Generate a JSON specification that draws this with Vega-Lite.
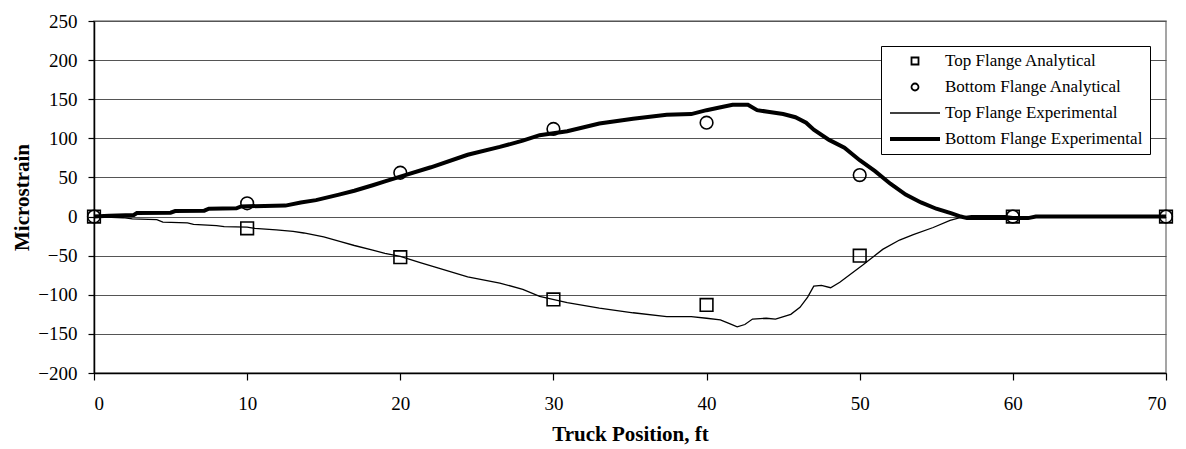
{
  "$schema": "https://vega.github.io/schema/vega-lite/v6.json",
  "width": 1072,
  "height": 352,
  "autosize": {"type": "none"},
  "padding": {"left": 94, "top": 21, "right": 20, "bottom": 76},
  "config": {
    "font": "Liberation Serif",
    "view": {"stroke": "#888888", "strokeWidth": 1.5},
    "axis": {
      "labelFont": "Liberation Serif",
      "titleFont": "Liberation Serif",
      "labelColor": "#000000",
      "titleColor": "#000000",
      "domainColor": "#000000",
      "tickColor": "#000000",
      "domainWidth": 1.5,
      "tickWidth": 1.2,
      "labelFontSize": 19,
      "titleFontSize": 21,
      "titleFontWeight": "bold"
    },
    "legend": {
      "labelFont": "Liberation Serif",
      "labelFontSize": 17,
      "labelColor": "#000000"
    }
  },
  "datasets": {
    "exp": [
      {"series": "Bottom Flange Experimental", "pos": 0, "strain": 0},
      {"series": "Bottom Flange Experimental", "pos": 1, "strain": 1},
      {"series": "Bottom Flange Experimental", "pos": 2.6, "strain": 2},
      {"series": "Bottom Flange Experimental", "pos": 2.8, "strain": 4.5},
      {"series": "Bottom Flange Experimental", "pos": 5, "strain": 5},
      {"series": "Bottom Flange Experimental", "pos": 5.3, "strain": 7},
      {"series": "Bottom Flange Experimental", "pos": 7.2, "strain": 7.5},
      {"series": "Bottom Flange Experimental", "pos": 7.5, "strain": 10},
      {"series": "Bottom Flange Experimental", "pos": 9.3, "strain": 10.5},
      {"series": "Bottom Flange Experimental", "pos": 9.6, "strain": 13},
      {"series": "Bottom Flange Experimental", "pos": 12.5, "strain": 14},
      {"series": "Bottom Flange Experimental", "pos": 13.5, "strain": 18},
      {"series": "Bottom Flange Experimental", "pos": 14.5, "strain": 21},
      {"series": "Bottom Flange Experimental", "pos": 16, "strain": 28},
      {"series": "Bottom Flange Experimental", "pos": 17, "strain": 33},
      {"series": "Bottom Flange Experimental", "pos": 18.2, "strain": 40},
      {"series": "Bottom Flange Experimental", "pos": 19, "strain": 45},
      {"series": "Bottom Flange Experimental", "pos": 20, "strain": 51},
      {"series": "Bottom Flange Experimental", "pos": 22, "strain": 63},
      {"series": "Bottom Flange Experimental", "pos": 24.4, "strain": 79},
      {"series": "Bottom Flange Experimental", "pos": 26.5, "strain": 89},
      {"series": "Bottom Flange Experimental", "pos": 28, "strain": 97},
      {"series": "Bottom Flange Experimental", "pos": 29.1, "strain": 104},
      {"series": "Bottom Flange Experimental", "pos": 30.9, "strain": 109},
      {"series": "Bottom Flange Experimental", "pos": 33, "strain": 119},
      {"series": "Bottom Flange Experimental", "pos": 35.2, "strain": 125},
      {"series": "Bottom Flange Experimental", "pos": 37.4, "strain": 130},
      {"series": "Bottom Flange Experimental", "pos": 39, "strain": 131},
      {"series": "Bottom Flange Experimental", "pos": 40, "strain": 136},
      {"series": "Bottom Flange Experimental", "pos": 41, "strain": 140},
      {"series": "Bottom Flange Experimental", "pos": 41.7, "strain": 143},
      {"series": "Bottom Flange Experimental", "pos": 42.7, "strain": 143},
      {"series": "Bottom Flange Experimental", "pos": 43.3, "strain": 136},
      {"series": "Bottom Flange Experimental", "pos": 44, "strain": 134},
      {"series": "Bottom Flange Experimental", "pos": 45, "strain": 131},
      {"series": "Bottom Flange Experimental", "pos": 45.8, "strain": 127},
      {"series": "Bottom Flange Experimental", "pos": 46.5, "strain": 120},
      {"series": "Bottom Flange Experimental", "pos": 47, "strain": 111},
      {"series": "Bottom Flange Experimental", "pos": 48, "strain": 98},
      {"series": "Bottom Flange Experimental", "pos": 49, "strain": 88},
      {"series": "Bottom Flange Experimental", "pos": 50, "strain": 72},
      {"series": "Bottom Flange Experimental", "pos": 51, "strain": 58},
      {"series": "Bottom Flange Experimental", "pos": 52, "strain": 42},
      {"series": "Bottom Flange Experimental", "pos": 53, "strain": 28},
      {"series": "Bottom Flange Experimental", "pos": 54, "strain": 18},
      {"series": "Bottom Flange Experimental", "pos": 55, "strain": 10},
      {"series": "Bottom Flange Experimental", "pos": 56, "strain": 4},
      {"series": "Bottom Flange Experimental", "pos": 56.6, "strain": 0},
      {"series": "Bottom Flange Experimental", "pos": 57, "strain": -2},
      {"series": "Bottom Flange Experimental", "pos": 61, "strain": -2},
      {"series": "Bottom Flange Experimental", "pos": 61.5, "strain": 0},
      {"series": "Bottom Flange Experimental", "pos": 70, "strain": 0},
      {"series": "Top Flange Experimental", "pos": 0, "strain": 0},
      {"series": "Top Flange Experimental", "pos": 1.9, "strain": -1.5},
      {"series": "Top Flange Experimental", "pos": 2.5, "strain": -3},
      {"series": "Top Flange Experimental", "pos": 4.1, "strain": -4},
      {"series": "Top Flange Experimental", "pos": 4.5, "strain": -7},
      {"series": "Top Flange Experimental", "pos": 6.1, "strain": -8},
      {"series": "Top Flange Experimental", "pos": 6.5, "strain": -10},
      {"series": "Top Flange Experimental", "pos": 8, "strain": -11.5},
      {"series": "Top Flange Experimental", "pos": 8.5, "strain": -13},
      {"series": "Top Flange Experimental", "pos": 10, "strain": -13.5},
      {"series": "Top Flange Experimental", "pos": 10.5, "strain": -15},
      {"series": "Top Flange Experimental", "pos": 11.9, "strain": -17},
      {"series": "Top Flange Experimental", "pos": 13, "strain": -19},
      {"series": "Top Flange Experimental", "pos": 13.7, "strain": -21},
      {"series": "Top Flange Experimental", "pos": 15, "strain": -26},
      {"series": "Top Flange Experimental", "pos": 16.1, "strain": -32},
      {"series": "Top Flange Experimental", "pos": 17, "strain": -37},
      {"series": "Top Flange Experimental", "pos": 18.2, "strain": -43},
      {"series": "Top Flange Experimental", "pos": 19, "strain": -47},
      {"series": "Top Flange Experimental", "pos": 20, "strain": -51},
      {"series": "Top Flange Experimental", "pos": 21.3, "strain": -59},
      {"series": "Top Flange Experimental", "pos": 22.5, "strain": -66},
      {"series": "Top Flange Experimental", "pos": 24.4, "strain": -77},
      {"series": "Top Flange Experimental", "pos": 26.5, "strain": -85},
      {"series": "Top Flange Experimental", "pos": 28, "strain": -93},
      {"series": "Top Flange Experimental", "pos": 29.1, "strain": -102},
      {"series": "Top Flange Experimental", "pos": 30.9, "strain": -110},
      {"series": "Top Flange Experimental", "pos": 33, "strain": -117},
      {"series": "Top Flange Experimental", "pos": 35.2, "strain": -123},
      {"series": "Top Flange Experimental", "pos": 37.4, "strain": -128},
      {"series": "Top Flange Experimental", "pos": 39, "strain": -128},
      {"series": "Top Flange Experimental", "pos": 40, "strain": -130},
      {"series": "Top Flange Experimental", "pos": 40.9, "strain": -132},
      {"series": "Top Flange Experimental", "pos": 41.5, "strain": -137},
      {"series": "Top Flange Experimental", "pos": 42, "strain": -141},
      {"series": "Top Flange Experimental", "pos": 42.5, "strain": -138},
      {"series": "Top Flange Experimental", "pos": 43, "strain": -131},
      {"series": "Top Flange Experimental", "pos": 43.9, "strain": -130},
      {"series": "Top Flange Experimental", "pos": 44.5, "strain": -131},
      {"series": "Top Flange Experimental", "pos": 45.5, "strain": -125},
      {"series": "Top Flange Experimental", "pos": 46.1, "strain": -116},
      {"series": "Top Flange Experimental", "pos": 46.6, "strain": -103},
      {"series": "Top Flange Experimental", "pos": 47, "strain": -89},
      {"series": "Top Flange Experimental", "pos": 47.5, "strain": -88},
      {"series": "Top Flange Experimental", "pos": 48.1, "strain": -91},
      {"series": "Top Flange Experimental", "pos": 48.7, "strain": -84},
      {"series": "Top Flange Experimental", "pos": 50.2, "strain": -62},
      {"series": "Top Flange Experimental", "pos": 51.5, "strain": -42},
      {"series": "Top Flange Experimental", "pos": 52.6, "strain": -30},
      {"series": "Top Flange Experimental", "pos": 53.5, "strain": -23},
      {"series": "Top Flange Experimental", "pos": 54.8, "strain": -14},
      {"series": "Top Flange Experimental", "pos": 55.9, "strain": -5},
      {"series": "Top Flange Experimental", "pos": 56.8, "strain": 0},
      {"series": "Top Flange Experimental", "pos": 57.3, "strain": 1},
      {"series": "Top Flange Experimental", "pos": 59.5, "strain": 1},
      {"series": "Top Flange Experimental", "pos": 60, "strain": 0},
      {"series": "Top Flange Experimental", "pos": 70, "strain": 0}
    ],
    "ana": [
      {"series": "Top Flange Analytical", "pos": 0, "strain": 0},
      {"series": "Top Flange Analytical", "pos": 10, "strain": -15},
      {"series": "Top Flange Analytical", "pos": 20, "strain": -52},
      {"series": "Top Flange Analytical", "pos": 30, "strain": -106},
      {"series": "Top Flange Analytical", "pos": 40, "strain": -113},
      {"series": "Top Flange Analytical", "pos": 50, "strain": -50},
      {"series": "Top Flange Analytical", "pos": 60, "strain": 0},
      {"series": "Top Flange Analytical", "pos": 70, "strain": 0},
      {"series": "Bottom Flange Analytical", "pos": 0, "strain": 0},
      {"series": "Bottom Flange Analytical", "pos": 10, "strain": 17},
      {"series": "Bottom Flange Analytical", "pos": 20, "strain": 56},
      {"series": "Bottom Flange Analytical", "pos": 30, "strain": 112},
      {"series": "Bottom Flange Analytical", "pos": 40, "strain": 120},
      {"series": "Bottom Flange Analytical", "pos": 50, "strain": 53},
      {"series": "Bottom Flange Analytical", "pos": 60, "strain": 0},
      {"series": "Bottom Flange Analytical", "pos": 70, "strain": 0}
    ]
  },
  "encoding": {
    "x": {
      "field": "pos",
      "type": "quantitative",
      "scale": {"domain": [0, 70], "nice": false, "zero": false},
      "axis": {
        "title": "Truck Position, ft",
        "values": [0, 10, 20, 30, 40, 50, 60, 70],
        "grid": false,
        "tickSize": 7,
        "labelPadding": 14,
        "titlePadding": 10
      }
    },
    "y": {
      "field": "strain",
      "type": "quantitative",
      "scale": {"domain": [-200, 250], "nice": false},
      "axis": {
        "title": "Microstrain",
        "values": [-200, -150, -100, -50, 0, 50, 100, 150, 200, 250],
        "grid": true,
        "gridColor": "#555555",
        "gridWidth": 1.2,
        "gridOpacity": 1,
        "tickSize": 6,
        "labelPadding": 11,
        "titlePadding": 5
      }
    }
  },
  "layer": [
    {
      "data": {"name": "exp"},
      "mark": {"type": "line", "color": "#000000", "interpolate": "linear"},
      "encoding": {
        "strokeWidth": {
          "field": "series",
          "type": "ordinal",
          "scale": {
            "type": "ordinal",
            "domain": ["Top Flange Analytical", "Bottom Flange Analytical", "Top Flange Experimental", "Bottom Flange Experimental"],
            "range": [1.8, 1.8, 1.3, 4]
          },
          "legend": {
            "title": null,
            "orient": "none",
            "legendX": 787,
            "legendY": 25,
            "fillColor": "#ffffff",
            "strokeColor": "#000000",
            "padding": 7,
            "symbolType": "stroke",
            "symbolSize": 2500,
            "symbolStrokeColor": "#000000",
            "labelOffset": 3,
            "rowPadding": 9,
            "labelLimit": 400,
            "encode": {
              "symbols": {
                "update": {
                  "y": {"value": 8},
                  "shape": {"signal": "datum.value === 'Top Flange Analytical' ? 'square' : (datum.value === 'Bottom Flange Analytical' ? 'circle' : 'stroke')"},
                  "size": {"signal": "(datum.value === 'Top Flange Analytical' || datum.value === 'Bottom Flange Analytical') ? 49 : 2500"}
                }
              },
              "labels": {
                "update": {
                  "y": {"value": 8}
                }
              }
            }
          }
        }
      }
    },
    {
      "data": {"name": "ana"},
      "mark": {"type": "point", "filled": false, "color": "#000000", "opacity": 1, "strokeWidth": 1.6, "size": 160},
      "encoding": {
        "shape": {
          "field": "series",
          "type": "nominal",
          "scale": {
            "domain": ["Top Flange Analytical", "Bottom Flange Analytical"],
            "range": ["square", "circle"]
          },
          "legend": null
        }
      }
    }
  ]
}
